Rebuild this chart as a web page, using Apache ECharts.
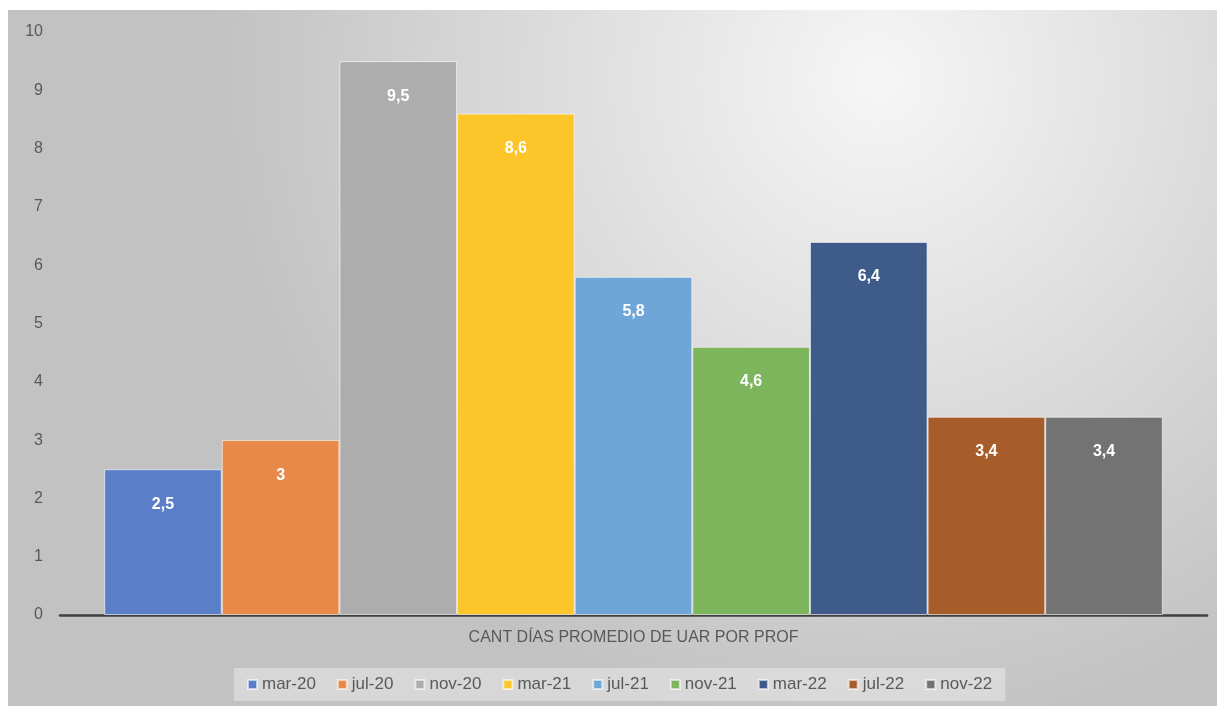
<!DOCTYPE html>
<html>
<head>
<meta charset="utf-8">
<script src="https://cdn.jsdelivr.net/npm/echarts@6/dist/echarts.min.js"></script>
<style>
  html, body { margin: 0; padding: 0; background: #fff; }
  #chart { position: absolute; left: 8px; top: 10px; width: 1209px; height: 696px; }
</style>
</head>
<body>
<div id="chart"></div>
<script>
const category = ['CANT DÍAS PROMEDIO DE UAR POR PROF'];
const seriesNames = ['mar-20', 'jul-20', 'nov-20', 'mar-21', 'jul-21', 'nov-21', 'mar-22', 'jul-22', 'nov-22'];
const seriesValues = [2.5, 3, 9.5, 8.6, 5.8, 4.6, 6.4, 3.4, 3.4];
const seriesColors = ['#5a7fc8', '#e8894a', '#adadad', '#fcc52a', '#70a5d8', '#7db55d', '#3f5b8a', '#a65d2a', '#737373'];
const yTicks = [0, 10, 1];

const chart = echarts.init(document.getElementById('chart'));

const option = {
  backgroundColor: {
    type: 'radial', x: 0.72, y: 0.1, r: 0.95,
    colorStops: [
      { offset: 0, color: '#f6f6f6' },
      { offset: 1, color: '#c2c2c2' }
    ]
  },
  textStyle: { fontFamily: 'Liberation Sans, Arial, sans-serif' },
  grid: { left: 52, right: 10, top: 22, bottom: 91, containLabel: false },
  legend: {
    bottom: 5,
    left: 226,
    itemWidth: 9,
    itemHeight: 9,
    itemGap: 21,
    padding: [8, 13],
    backgroundColor: 'rgba(255,255,255,0.35)',
    textStyle: { color: '#595959', fontSize: 17 },
    data: seriesNames.map(n => ({ name: n, icon: 'rect' }))
  },
  xAxis: {
    type: 'category',
    data: category,
    axisLine: { lineStyle: { color: '#404040', width: 2.5 } },
    axisTick: { show: false },
    axisLabel: { color: '#595959', fontSize: 16, margin: 15 }
  },
  yAxis: {
    type: 'value',
    min: yTicks[0],
    max: yTicks[1],
    interval: yTicks[2],
    axisLine: { show: false },
    axisTick: { show: false },
    splitLine: { show: false },
    axisLabel: { color: '#595959', fontSize: 16, margin: 17 }
  },
  series: seriesNames.map((name, i) => ({
    name: name,
    type: 'bar',
    data: [seriesValues[i]],
    barGap: '0%',
    barCategoryGap: '7.7%',
    itemStyle: { color: seriesColors[i], borderColor: 'rgba(255,255,255,0.6)', borderWidth: 1 },
    label: {
      show: true,
      position: 'insideTop',
      distance: 27,
      color: '#fff',
      fontWeight: 'bold',
      fontSize: 16,
      formatter: p => String(p.value).replace('.', ',')
    }
  }))
};

chart.setOption(option);
</script>
</body>
</html>
